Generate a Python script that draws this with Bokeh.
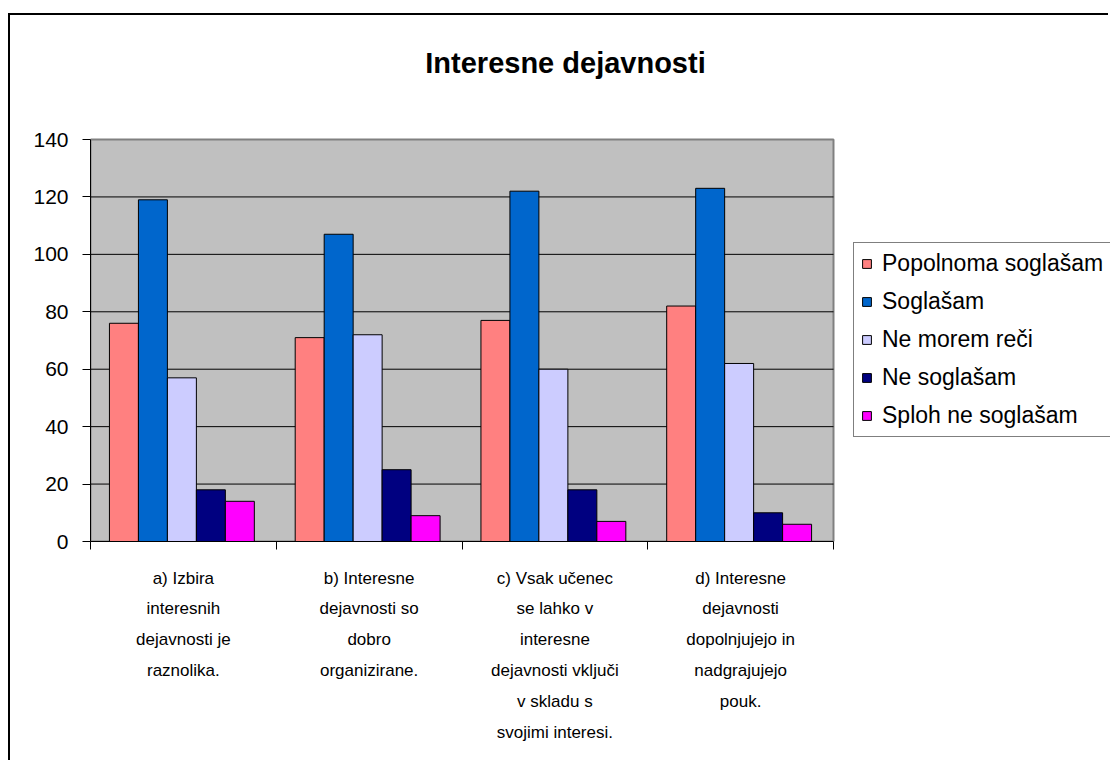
from bokeh.plotting import figure
from bokeh.models import FixedTicker, Legend, LegendItem, Label
from bokeh.embed import file_html
from bokeh.resources import INLINE

title_text = "Interesne dejavnosti"
categories = [
    "a) Izbira\ninteresnih\ndejavnosti je\nraznolika.",
    "b) Interesne\ndejavnosti so\ndobro\norganizirane.",
    "c) Vsak učenec\nse lahko v\ninteresne\ndejavnosti vključi\nv skladu s\nsvojimi interesi.",
    "d) Interesne\ndejavnosti\ndopolnjujejo in\nnadgrajujejo\npouk.",
]
series_names = ["Popolnoma soglašam", "Soglašam", "Ne morem reči", "Ne soglašam", "Sploh ne soglašam"]
popolnoma_soglasam = [76, 71, 77, 82]
soglasam = [119, 107, 122, 123]
ne_morem_reci = [57, 72, 60, 62]
ne_soglasam = [18, 25, 18, 10]
sploh_ne_soglasam = [14, 9, 7, 6]
series_values = [popolnoma_soglasam, soglasam, ne_morem_reci, ne_soglasam, sploh_ne_soglasam]
colors = ["#FF8080", "#0066CC", "#CCCCFF", "#000080", "#FF00FF"]
y_ticks = [0, 20, 40, 60, 80, 100, 120, 140]

FONT = "Liberation Sans"

# layout (pixels on the canvas)
W, H = 1100, 747
PLOT_L, PLOT_R, PLOT_T, PLOT_B = 80, 823, 124, 526
ncat = len(categories)
x_end = ncat * (W - PLOT_L) / (PLOT_R - PLOT_L)
y_end = y_ticks[-1] * PLOT_B / (PLOT_B - PLOT_T)

p = figure(width=W, height=H,
           x_range=(0, x_end), y_range=(y_ticks[0], y_end),
           output_backend="svg", toolbar_location=None,
           min_border_left=PLOT_L, min_border_right=0,
           min_border_top=0, min_border_bottom=H - PLOT_B)
p.margin = (13, 0, 0, 8)
p.styles = {"border-left": "2px solid #000000", "border-top": "2px solid #000000"}
p.title.text = ""
p.title.standoff = 0

p.background_fill_color = "white"
p.border_fill_color = "white"
p.outline_line_color = None
p.xgrid.visible = False
p.ygrid.visible = False

# plot area (grey) with its border
p.quad(left=[0], right=[ncat], bottom=[y_ticks[0]], top=[y_ticks[-1]],
       fill_color="#C0C0C0", line_color="#808080", line_width=2)
# horizontal grid lines
grid_vals = y_ticks[1:-1]
p.segment(x0=[0] * len(grid_vals), x1=[ncat] * len(grid_vals),
          y0=grid_vals, y1=grid_vals, line_color="black", line_width=1)

n = len(series_names)
bw = 0.156
renderers = []
for k, (vals, col) in enumerate(zip(series_values, colors)):
    xs = [i + 0.5 + (k - (n - 1) / 2) * bw - 0.008 for i in range(ncat)]
    r = p.vbar(x=xs, top=vals, bottom=0, width=bw, fill_color=col,
               line_color="black", line_width=1)
    renderers.append(r)

# y axis
p.yaxis.ticker = FixedTicker(ticks=y_ticks)
p.yaxis.bounds = (y_ticks[0], y_ticks[-1])
p.yaxis.axis_line_color = "black"
p.yaxis.major_tick_line_color = "black"
p.yaxis.major_tick_out = 8
p.yaxis.major_tick_in = 0
p.yaxis.minor_tick_line_color = None
p.yaxis.major_label_standoff = 14
p.yaxis.major_label_text_font = FONT
p.yaxis.major_label_text_font_size = "21px"
p.yaxis.major_label_text_color = "black"

# x axis
centers = [i + 0.5 for i in range(ncat)]
bounds = [i for i in range(ncat + 1)]
p.xaxis.ticker = FixedTicker(ticks=centers, minor_ticks=bounds)
p.xaxis.bounds = (0, ncat)
p.xaxis.major_label_overrides = {c: lab for c, lab in zip(centers, categories)}
p.xaxis.axis_line_color = "black"
p.xaxis.major_tick_line_color = None
p.xaxis.major_tick_out = 0
p.xaxis.major_tick_in = 0
p.xaxis.minor_tick_line_color = "black"
p.xaxis.minor_tick_out = 8
p.xaxis.minor_tick_in = 0
p.xaxis.major_label_standoff = 19
p.xaxis.major_label_text_font = FONT
p.xaxis.major_label_text_font_size = "17px"
p.xaxis.major_label_text_line_height = 1.63
p.xaxis.major_label_text_color = "black"
p.xaxis.major_label_text_align = "center"

# legend
legend = Legend(
    items=[LegendItem(label=name, renderers=[r]) for name, r in zip(series_names, renderers)],
    location=(763, 104),
    orientation="vertical",
    border_line_color="black", border_line_width=1,
    background_fill_color="white", background_fill_alpha=1.0,
    padding=7, spacing=11, margin=0,
    glyph_width=11, glyph_height=11, label_height=27, label_standoff=10,
    label_text_font=FONT, label_text_font_size="23px", label_text_color="black",
)
p.add_layout(legend, "center")

# chart title
title = Label(x=475, y=479, x_units="screen", y_units="screen", text=title_text,
              text_align="center", text_baseline="alphabetic",
              text_font=FONT, text_font_size="29px", text_font_style="bold",
              text_color="black")
p.add_layout(title)

open("out.html", "w").write(file_html(p, INLINE))
